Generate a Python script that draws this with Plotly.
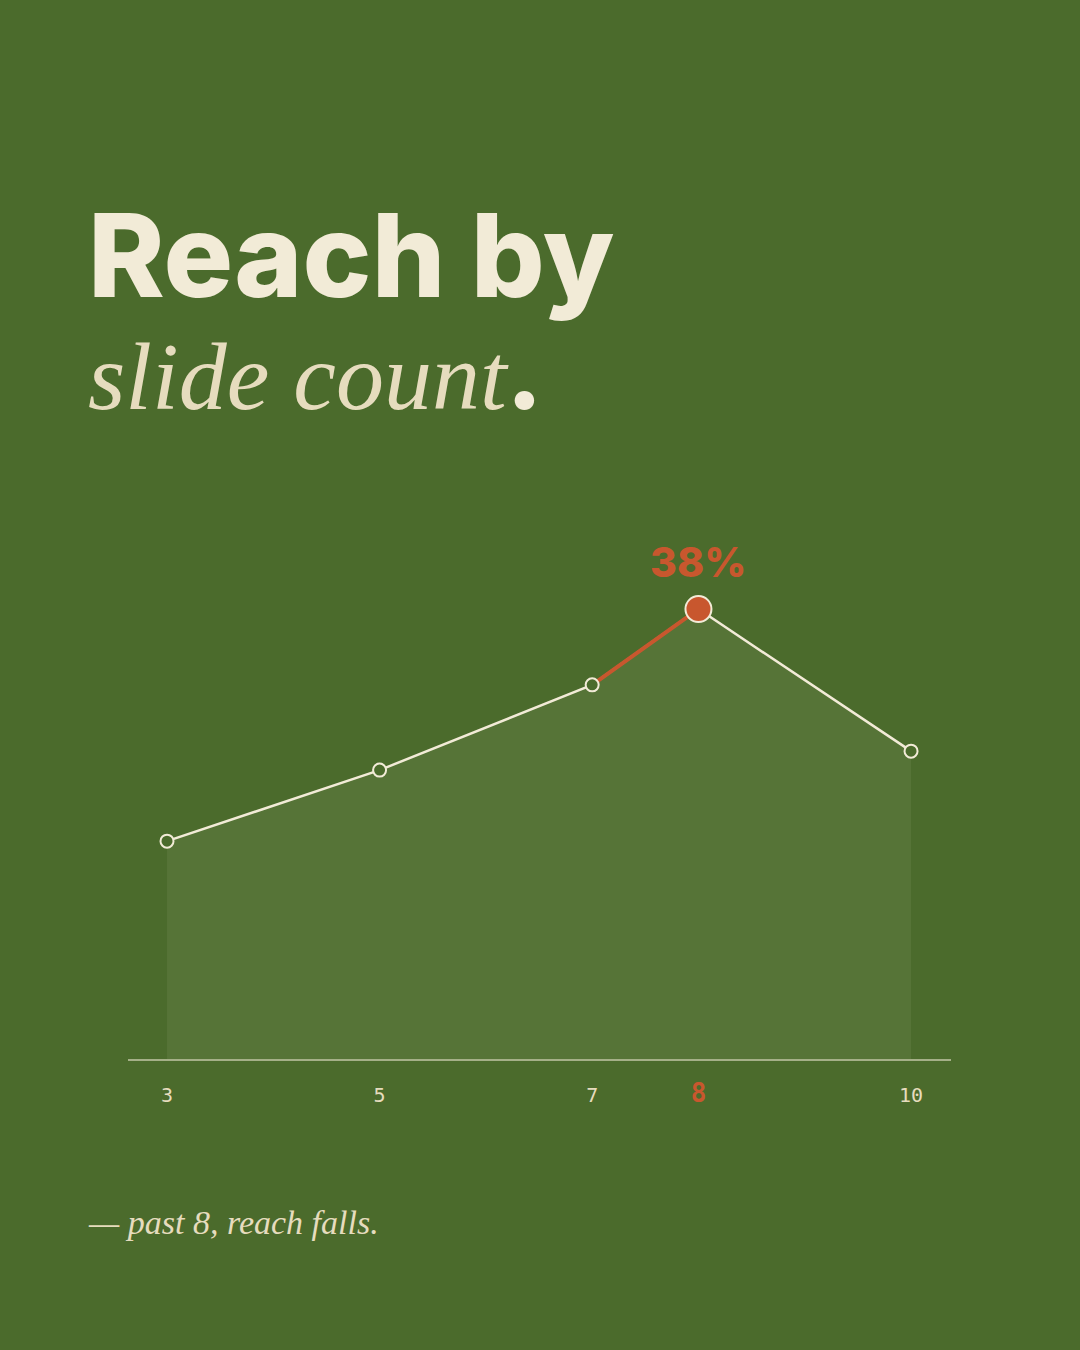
"""Reach by slide count — single-series line with the peak called out."""
import plotly.graph_objects as go

# ---- data ----
slide_counts = [3, 5, 7, 8, 10]
reach_pct = [18.4, 24.4, 31.6, 38, 26]
peak_slides = 8
title_top = "Reach by"
title_bottom = "slide count"
footnote = "— past 8, reach falls."

# ---- palette ----
BG = "#4B6B2C"
CREAM = "#F2EBD7"
BEIGE = "#E6DCBE"
ORANGE = "#C8572E"
AREA = "rgba(241,234,214,0.07)"
AXIS = "rgba(241,234,214,0.55)"

W, H = 1080, 1350
peak_i = slide_counts.index(peak_slides)
peak_val = reach_pct[peak_i]

fig = go.Figure()

# soft area under the curve
fig.add_trace(go.Scatter(x=slide_counts, y=reach_pct, mode="lines", fill="tozeroy",
                         fillcolor=AREA, line=dict(width=0), hoverinfo="skip"))
# main line
fig.add_trace(go.Scatter(x=slide_counts, y=reach_pct, mode="lines",
                         line=dict(color=CREAM, width=2.5)))
# the run-up to the peak in orange
fig.add_trace(go.Scatter(x=slide_counts[peak_i - 1:peak_i + 1],
                         y=reach_pct[peak_i - 1:peak_i + 1], mode="lines",
                         line=dict(color=ORANGE, width=4)))
# ordinary points
others = [i for i in range(len(slide_counts)) if i != peak_i]
fig.add_trace(go.Scatter(x=[slide_counts[i] for i in others], y=[reach_pct[i] for i in others],
                         mode="markers",
                         marker=dict(size=13, color=BG, line=dict(color=CREAM, width=2))))
# peak point
fig.add_trace(go.Scatter(x=[peak_slides], y=[peak_val], mode="markers",
                         marker=dict(size=26, color=ORANGE, line=dict(color=CREAM, width=2))))

ticktext = [
    f'<b><span style="color:{ORANGE};font-size:26px;font-weight:900">{s}</span></b>'
    if s == peak_slides else str(s)
    for s in slide_counts
]

fig.update_layout(
    width=W, height=H,
    paper_bgcolor=BG, plot_bgcolor=BG,
    margin=dict(l=0, r=0, t=0, b=0),
    showlegend=False,
    xaxis=dict(domain=[128 / W, 951 / W], range=[2.633, 10.376],
               tickvals=slide_counts, ticktext=ticktext,
               showgrid=False, zeroline=False,
               showline=True, linecolor=AXIS, linewidth=1.5,
               ticks="", ticklabelstandoff=17,
               tickfont=dict(family="DejaVu Sans Mono", size=20, color=BEIGE)),
    yaxis=dict(domain=[1 - 1059 / H, 1 - 467 / H], range=[0, 50], visible=False),
)

# peak value label
fig.add_annotation(x=peak_slides, y=peak_val, text=f"{peak_val:g}%", showarrow=False,
                   yshift=47, font=dict(family="Inter", size=41, weight=800, color=ORANGE))

# two-line title in one text block: heavy sans over italic serif, cream full stop
title_html = (
    f'<span style="font-family:Inter;font-weight:800;font-size:116px;color:{CREAM}">'
    f'{title_top}</span><br>'
    f'<span style="font-family:\'Liberation Serif\';font-style:italic;font-size:96px;'
    f'color:{BEIGE}">{title_bottom}</span>'
    f'<span style="font-family:Inter;font-weight:900;font-size:96px;color:{CREAM}">.</span>'
)
fig.add_annotation(xref="paper", yref="paper", x=86 / W, y=1 - 308 / H,
                   xanchor="left", yanchor="middle", align="left", text=title_html,
                   showarrow=False,
                   font=dict(family="Inter", size=86, color=CREAM))

# footnote
fig.add_annotation(xref="paper", yref="paper", x=86 / W, y=1 - 1222 / H,
                   xanchor="left", yanchor="middle", text=footnote, showarrow=False,
                   font=dict(family="Liberation Serif", size=34, style="italic", color=BEIGE))

# drop the browser's default body margin so the figure sits flush in the window
fig.write_html("out.html", config={"displayModeBar": False},
               post_script="document.body.style.margin='0';")
